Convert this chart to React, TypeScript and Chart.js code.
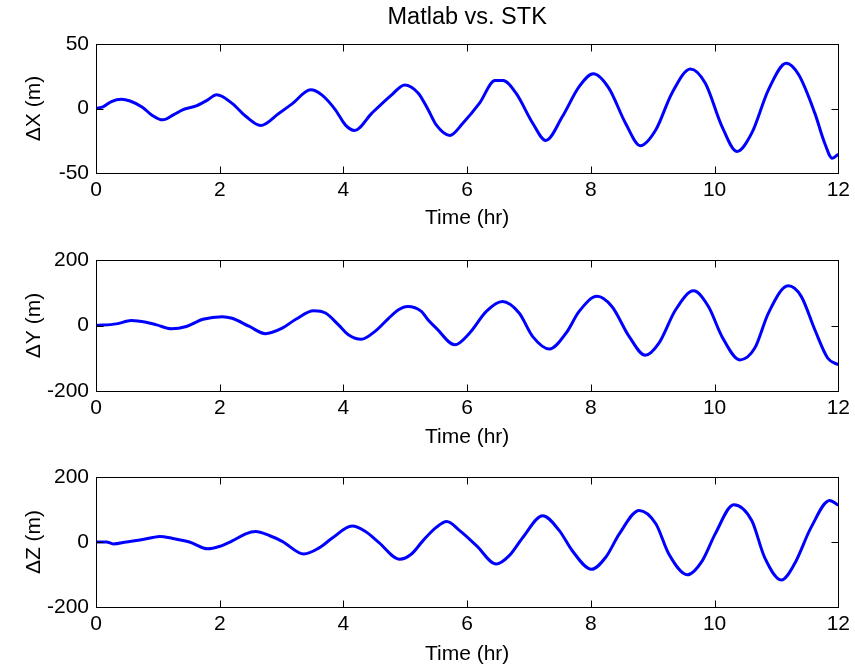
import React, { useEffect, useRef } from "react";
import { Chart, registerables } from "chart.js";

Chart.register(...registerables);

const FONT = "'Liberation Sans', Arial, Helvetica, sans-serif";

const titleText = "Matlab vs. STK";
const xAxisLabel = "Time (hr)";
const timeTicks = [0, 2, 4, 6, 8, 10, 12];
const dxTicks = [-50, 0, 50];
const dyzTicks = [-200, 0, 200];

const dxTime = [0, 0.12, 0.25, 0.41, 0.55, 0.75, 0.9, 1.08, 1.25, 1.4, 1.62, 1.8, 1.95, 2.2, 2.42, 2.66, 2.96, 3.17, 3.47, 3.65, 3.87, 4.03, 4.18, 4.46, 4.78, 4.99, 5.21, 5.37, 5.5, 5.72, 5.93, 6.2, 6.45, 6.58, 6.79, 7.06, 7.27, 7.54, 7.81, 8.04, 8.29, 8.56, 8.8, 9.05, 9.31, 9.61, 9.85, 10.12, 10.36, 10.6, 10.87, 11.16, 11.36, 11.62, 11.78, 11.9, 12];
const dxVals = [0, 1.5, 5.4, 7.2, 5.8, 1, -5, -8.8, -5, -1, 2, 6.5, 10.6, 4, -6, -13.2, -3.6, 3.6, 14.5, 10.6, -1, -12.7, -17, -3.6, 10.6, 18.3, 11.9, -1, -12.7, -20.9, -11.4, 4.1, 21.7, 21.7, 11.9, -11.4, -24.8, -6.2, 17, 26.9, 15.8, -11.4, -28.9, -16.5, 11.9, 30.7, 19.6, -14, -33.3, -19.1, 14.5, 35.1, 26.1, -3.6, -26.9, -38.5, -35.4];

const dyTime = [0, 0.33, 0.57, 0.81, 0.98, 1.22, 1.46, 1.73, 2.04, 2.2, 2.48, 2.74, 3.01, 3.23, 3.52, 3.71, 3.92, 4.08, 4.29, 4.51, 4.73, 4.89, 5.04, 5.26, 5.37, 5.5, 5.8, 6.04, 6.31, 6.57, 6.84, 7.06, 7.33, 7.6, 7.81, 8.1, 8.34, 8.62, 8.88, 9.1, 9.37, 9.66, 9.9, 10.12, 10.41, 10.65, 10.87, 11.19, 11.4, 11.62, 11.83, 12];
const dyVals = [0, 5, 15, 10, 2, -10, -3, 19, 27, 22, -3, -25, -8, 19, 45, 38, 2, -28, -42, -18, 22, 48, 58, 43, 17, -8, -59, -23, 43, 73, 38, -34, -72, -23, 43, 89, 58, -34, -91, -54, 48, 106, 58, -34, -105, -69, 38, 121, 89, -13, -100, -120];

const dzTime = [0, 0.17, 0.28, 0.49, 0.71, 0.92, 1.03, 1.24, 1.51, 1.81, 1.99, 2.21, 2.42, 2.58, 2.8, 3.01, 3.36, 3.6, 3.82, 4.14, 4.35, 4.57, 4.91, 5.1, 5.29, 5.5, 5.67, 5.88, 6.15, 6.47, 6.68, 6.9, 7.22, 7.49, 7.7, 8.01, 8.24, 8.46, 8.78, 9.05, 9.26, 9.56, 9.8, 10.01, 10.31, 10.6, 10.81, 11.08, 11.29, 11.56, 11.86, 12];
const dzVals = [0, 0, -6, 0, 6, 14, 17, 11, 0, -21, -14, 4, 25, 32, 20, 2, -37, -19, 12, 49, 33, -1, -53, -37, 5, 45, 63, 35, -11, -68, -42, 14, 81, 35, -27, -84, -47, 25, 97, 56, -37, -101, -58, 25, 115, 66, -48, -117, -68, 45, 128, 113];

const boxPlugin = {
  id: "matlabBox",
  afterDatasetsDraw(chart: any) {
    const { ctx, chartArea: a, scales } = chart;
    const L = Math.round(a.left) + 0.5;
    const R = Math.round(a.right) + 0.5;
    const T = Math.round(a.top) + 0.5;
    const B = Math.round(a.bottom) + 0.5;
    const len = 7;
    ctx.save();
    ctx.strokeStyle = "#000";
    ctx.lineWidth = 1;
    ctx.strokeRect(L, T, R - L, B - T);
    ctx.beginPath();
    scales.x.ticks.forEach((t: any) => {
      const px = Math.round(scales.x.getPixelForValue(t.value)) + 0.5;
      ctx.moveTo(px, T);
      ctx.lineTo(px, T + len);
      ctx.moveTo(px, B);
      ctx.lineTo(px, B - len);
    });
    scales.y.ticks.forEach((t: any) => {
      const py = Math.round(scales.y.getPixelForValue(t.value)) + 0.5;
      ctx.moveTo(L, py);
      ctx.lineTo(L + len, py);
      ctx.moveTo(R, py);
      ctx.lineTo(R - len, py);
    });
    ctx.stroke();
    ctx.restore();
  },
};

type SubProps = {
  top: number;
  height: number;
  times: number[];
  values: number[];
  yTicks: number[];
  yLabel: string;
  title?: string;
  padTop: number;
  xScaleHeight: number;
  xTitlePad: number;
};

function SubPlot(p: SubProps) {
  const ref = useRef<HTMLCanvasElement | null>(null);
  useEffect(() => {
    if (!ref.current) return;
    const tickFont = { family: FONT, size: 21, weight: "normal" as const };
    const chart = new Chart(ref.current, {
      type: "line",
      data: {
        datasets: [
          {
            data: p.times.map((t, i) => ({ x: t, y: p.values[i] })),
            borderColor: "#0000ff",
            backgroundColor: "#0000ff",
            borderWidth: 3,
            pointRadius: 0,
            cubicInterpolationMode: "monotone",
            fill: false,
          },
        ],
      },
      options: {
        animation: false,
        responsive: false,
        maintainAspectRatio: false,
        devicePixelRatio: 1,
        layout: { padding: { left: 0, right: 13, top: p.padTop, bottom: 0 } },
        plugins: {
          legend: { display: false },
          tooltip: { enabled: false },
          title: p.title
            ? {
                display: true,
                fullSize: false,
                text: p.title,
                color: "#000",
                font: { family: FONT, size: 23.5, weight: "normal" },
                padding: { top: 3.9, bottom: 11.9 },
              }
            : { display: false },
        },
        scales: {
          x: {
            type: "linear",
            min: timeTicks[0],
            max: timeTicks[timeTicks.length - 1],
            afterBuildTicks: (s: any) => {
              s.ticks = timeTicks.map((v) => ({ value: v }));
            },
            grid: { display: false, drawTicks: false, tickLength: 0 },
            border: { display: false },
            ticks: { color: "#000", font: tickFont, padding: 5, maxRotation: 0, autoSkip: false },
            title: {
              display: true,
              text: xAxisLabel,
              color: "#000",
              font: tickFont,
              padding: { top: 0, bottom: p.xTitlePad },
            },
            afterFit: (s: any) => {
              s.height = p.xScaleHeight;
            },
          },
          y: {
            type: "linear",
            min: p.yTicks[0],
            max: p.yTicks[p.yTicks.length - 1],
            afterBuildTicks: (s: any) => {
              s.ticks = p.yTicks.map((v) => ({ value: v }));
            },
            grid: { display: false, drawTicks: false, tickLength: 0 },
            border: { display: false },
            ticks: { color: "#000", font: tickFont, padding: 7, autoSkip: false },
            title: {
              display: true,
              text: p.yLabel,
              color: "#000",
              font: tickFont,
              padding: { top: 21.4, bottom: 0 },
            },
            afterFit: (s: any) => {
              s.width = 96;
            },
          },
        },
      } as any,
      plugins: [boxPlugin],
    });
    return () => chart.destroy();
  }, []);
  return (
    <canvas
      ref={ref}
      width={855}
      height={p.height}
      style={{ position: "absolute", left: 0, top: p.top, width: 855, height: p.height, display: "block" }}
    />
  );
}

export default function App() {
  return (
    <div style={{ position: "absolute", left: 0, top: 0, width: 855, height: 669, background: "#fff" }}>
      <SubPlot top={0} height={232} times={dxTime} values={dxVals} yTicks={dxTicks} yLabel="ΔX (m)" title={titleText} padTop={0} xScaleHeight={59} xTitlePad={0.9} />
      <SubPlot top={232} height={218} times={dyTime} values={dyVals} yTicks={dyzTicks} yLabel="ΔY (m)" padTop={28} xScaleHeight={59} xTitlePad={0} />
      <SubPlot top={450} height={219} times={dzTime} values={dzVals} yTicks={dyzTicks} yLabel="ΔZ (m)" padTop={27} xScaleHeight={62} xTitlePad={2.4} />
    </div>
  );
}
